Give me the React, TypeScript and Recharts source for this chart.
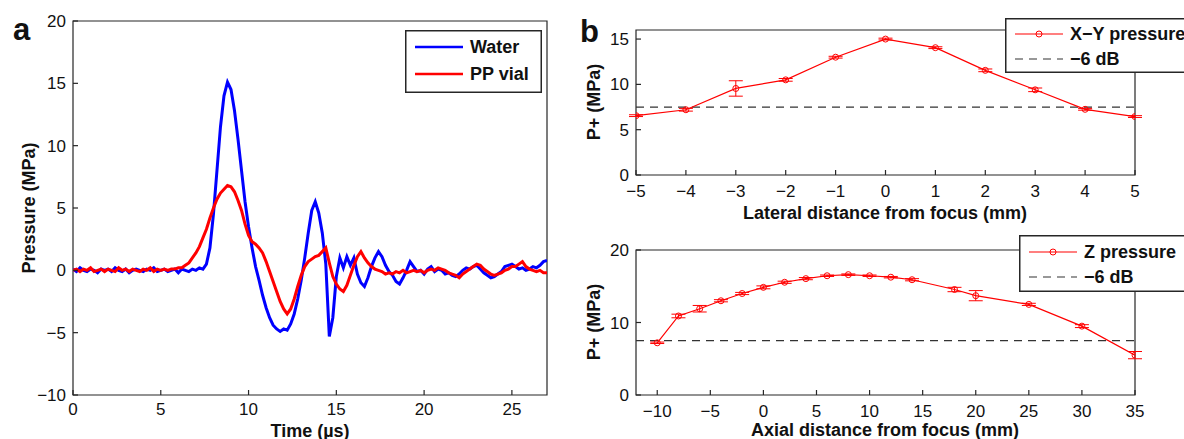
import { LineChart, Line, XAxis, YAxis, ReferenceLine, ReferenceArea, ErrorBar } from 'recharts';

const FONT = '"Liberation Sans", Arial, Helvetica, sans-serif';
const BLUE = '#0000ff';
const RED = '#ff0000';
const AXIS = '#262626';
const DASH = '#333333';

// (a) hydrophone traces, one sample every 0.2 us from 0 to 27 us
const SAMPLE_STEP_US = 0.2;
const waterMPa = [
  0.1, -0.1, 0.2, 0, -0.1, 0.1, 0, -0.2, 0.1, 0,
  0.1, -0.1, 0.2, 0, -0.1, 0.1, -0.2, 0, 0.1, 0,
  -0.1, 0.1, 0, 0.2, -0.1, 0, 0.1, -0.1, 0, 0.1,
  -0.2, 0.1, 0, -0.1, 0.1, 0, 0.2, 0.1, 0.5, 1.8,
  4.5, 8.0, 11.5, 14.0, 15.1, 14.5, 12.8, 10.5, 8.0, 5.5,
  3.5, 1.8, 0.3, -0.8, -2.0, -3.0, -3.8, -4.4, -4.7, -4.9,
  -4.7, -4.8, -4.3, -3.5, -2.3, -0.8, 1.0, 3.0, 4.8, 5.5,
  4.6, 3.0, 0.5, -5.3, -3.8, -0.5, 1.0, 0.2, 1.1, 0.4,
  1.0, -0.3, -1.0, -1.3, -0.6, 0.3, 1.0, 1.5, 1.1, 0.4,
  -0.1, -0.4, -0.9, -1.1, -0.6, 0, 0.7, 0.3, -0.1, 0,
  -0.3, 0.1, 0.3, -0.1, 0.1, 0, -0.3, -0.2, -0.4, -0.5,
  -0.3, 0, 0.2, 0.1, 0.3, 0.4, 0.1, -0.2, -0.4, -0.6,
  -0.5, -0.3, -0.1, 0.3, 0.4, 0.5, 0.3, 0.1, 0.2, 0,
  0.1, 0.3, 0.2, 0.4, 0.7, 0.8,
];
const ppVialMPa = [
  0, 0.1, -0.1, 0.1, 0, 0.2, -0.1, 0, 0.1, -0.1,
  0.1, 0, -0.1, 0.2, 0, 0.1, -0.1, 0.1, 0, -0.1,
  0.1, 0, 0.2, -0.1, 0.1, 0, 0.1, 0, 0.1, 0.1,
  0.2, 0.2, 0.4, 0.6, 1.0, 1.4, 1.9, 2.6, 3.3, 4.2,
  5.0, 5.7, 6.2, 6.5, 6.8, 6.7, 6.3, 5.6, 4.8, 3.7,
  2.8, 2.3, 2.1, 1.8, 1.4, 0.7, -0.1, -0.9, -1.7, -2.5,
  -3.1, -3.5, -3.1, -2.3, -1.3, -0.4, 0.3, 0.7, 0.9, 1.1,
  1.2, 1.5, 1.8, 0.6, -0.5, -1.1, -1.5, -1.7, -1.2, -0.4,
  0.4, 1.1, 1.5, 1.0, 0.6, 0.3, 0.1, 0, -0.1, -0.3,
  -0.2, -0.3, -0.1, -0.2, 0, -0.2, -0.1, 0, -0.1, 0,
  -0.2, 0, 0.1, 0, 0.2, 0.1, 0, -0.2, -0.3, -0.4,
  -0.6, -0.3, -0.1, 0.1, 0.3, 0.5, 0.4, 0.1, -0.1, -0.3,
  -0.4, -0.3, -0.2, 0, 0.1, 0.3, 0.3, 0.5, 0.7, 0.3,
  0.1, 0, -0.1, 0, -0.2, -0.2,
];
const timeTicks = [0, 5, 10, 15, 20, 25];
const pressureTicks = [-10, -5, 0, 5, 10, 15, 20];

// (b) peak positive pressure profiles
const lateralMm = [-5, -4, -3, -2, -1, 0, 1, 2, 3, 4, 5];
const lateralP = [6.55, 7.2, 9.55, 10.5, 13.0, 15.0, 14.05, 11.55, 9.4, 7.25, 6.45];
const lateralErr = [0.1, 0.15, 0.85, 0.15, 0.1, 0.1, 0.1, 0.15, 0.2, 0.1, 0.1];

const axialMm = [-10, -8, -6, -4, -2, 0, 2, 4, 6, 8, 10, 12, 14, 18, 20, 25, 30, 35];
const axialP = [7.2, 10.9, 11.9, 13.0, 14.0, 14.85, 15.55, 16.05, 16.45, 16.6, 16.45, 16.25, 15.9, 14.55, 13.7, 12.5, 9.5, 5.5];
const axialErr = [0.1, 0.25, 0.45, 0.15, 0.15, 0.2, 0.15, 0.15, 0.1, 0.1, 0.1, 0.1, 0.15, 0.3, 0.7, 0.15, 0.2, 0.5];
const axialTicks = [-10, -5, 0, 5, 10, 15, 20, 25, 30, 35];

const minus6dB = 7.5;

const traceData = waterMPa.map((w, i) => ({
  t: +(i * SAMPLE_STEP_US).toFixed(1),
  water: w,
  pp: ppVialMPa[i],
}));
const lateralData = lateralMm.map((x, i) => ({ x, p: lateralP[i], err: lateralErr[i] }));
const axialData = axialMm.map((x, i) => ({ x, p: axialP[i], err: axialErr[i] }));

const fmt = (v: number) => (v < 0 ? '\u2212' + Math.abs(v) : String(v));
const tickText = { fill: '#111', fontSize: 17, fontFamily: FONT };

// MATLAB-style inward tick marks, labels only on bottom / left
type TickProps = { x?: number; y?: number; payload?: { value: number } };
const tickMark = (side: 'bottom' | 'top' | 'left' | 'right', below = 21) => (props: TickProps) => {
  const x = props.x ?? 0;
  const y = props.y ?? 0;
  const v = props.payload?.value ?? 0;
  const L = 5;
  if (side === 'bottom') {
    return (
      <g>
        <line x1={x} x2={x} y1={y} y2={y - L} stroke={AXIS} strokeWidth={1.2} />
        <text x={x} y={y + below} textAnchor="middle" {...tickText}>{fmt(v)}</text>
      </g>
    );
  }
  if (side === 'left') {
    return (
      <g>
        <line x1={x} x2={x + L} y1={y} y2={y} stroke={AXIS} strokeWidth={1.2} />
        <text x={x - 7} y={y + 6} textAnchor="end" {...tickText}>{fmt(v)}</text>
      </g>
    );
  }
  if (side === 'top') {
    return <line x1={x} x2={x} y1={y} y2={y + L} stroke={AXIS} strokeWidth={1.2} />;
  }
  return <line x1={x} x2={x - L} y1={y} y2={y} stroke={AXIS} strokeWidth={1.2} />;
};

type Row = { label: string; color: string; dashed?: boolean; marker?: boolean; thick?: boolean };
const LegendBox = ({ x, y, width, height, rows, rowY }: {
  x: number; y: number; width: number; height: number; rows: Row[]; rowY: number[];
}) => (
  <g transform={`translate(${x}, ${y})`}>
    <rect x={0.75} y={0.75} width={width - 1.5} height={height - 1.5} fill="#fff" stroke={AXIS} strokeWidth={1.5} />
    {rows.map((r, i) => (
      <g key={r.label}>
        <line
          x1={10}
          x2={58}
          y1={rowY[i]}
          y2={rowY[i]}
          stroke={r.color}
          strokeWidth={r.thick ? 2.4 : 1.2}
          strokeDasharray={r.dashed ? '8 6' : undefined}
        />
        {r.marker && <circle cx={34} cy={rowY[i]} r={3} fill="none" stroke={r.color} strokeWidth={1} />}
        <text x={65} y={rowY[i]} dominantBaseline="central" fontFamily={FONT} fontWeight="bold" fontSize={18} fill="#111">
          {r.label}
        </text>
      </g>
    ))}
  </g>
);

const title = { fontFamily: FONT, fontWeight: 'bold', fontSize: 18, fill: '#111' } as const;
const VTitle = ({ x, y, text }: { x: number; y: number; text: string }) => (
  <text x={x} y={y} textAnchor="middle" dominantBaseline="central" transform={`rotate(-90, ${x}, ${y})`} {...title}>
    {text}
  </text>
);

const ProfileChart = ({ data, height, top, xDomain, xTicks, yDomain, yTicks, xAxisHeight }: {
  data: { x: number; p: number; err: number }[];
  height: number; top: number; xDomain: number[]; xTicks: number[]; yDomain: number[]; yTicks: number[];
  xAxisHeight: number;
}) => (
  <LineChart width={604} height={height} data={data} margin={{ top, right: 49, bottom: 0, left: 0 }}>
    <XAxis
      dataKey="x"
      type="number"
      domain={xDomain}
      ticks={xTicks}
      allowDataOverflow
      height={xAxisHeight}
      tickSize={0}
      tickMargin={0}
      tick={tickMark('bottom', 22)}
      axisLine={false}
      tickLine={false}
    />
    <XAxis xAxisId="top" orientation="top" type="number" domain={xDomain} ticks={xTicks} allowDataOverflow height={0} tickSize={0} tickMargin={0} tick={tickMark('top')} axisLine={false} tickLine={false} />
    <YAxis
      type="number"
      domain={yDomain}
      ticks={yTicks}
      allowDataOverflow
      width={56}
      tickSize={0}
      tickMargin={0}
      tick={tickMark('left')}
      axisLine={false}
      tickLine={false}
    />
    <YAxis yAxisId="right" orientation="right" type="number" domain={yDomain} ticks={yTicks} allowDataOverflow width={0} tickSize={0} tickMargin={0} tick={tickMark('right')} axisLine={false} tickLine={false} />
    <ReferenceArea x1={xDomain[0]} x2={xDomain[1]} y1={yDomain[0]} y2={yDomain[1]} fill="none" stroke={AXIS} strokeWidth={1.2} ifOverflow="visible" />
    <ReferenceLine y={minus6dB} stroke={DASH} strokeWidth={1.2} strokeDasharray="8 6" />
    <Line
      dataKey="p"
      stroke={RED}
      strokeWidth={1.2}
      dot={{ r: 3, stroke: RED, fill: 'none', strokeWidth: 1 }}
      isAnimationActive={false}
    >
      <ErrorBar dataKey="err" width={7} stroke={RED} strokeWidth={1} direction="y" />
    </Line>
  </LineChart>
);

const App = () => (
  <div style={{ position: 'absolute', left: 0, top: 0, width: 1184, height: 439, overflow: 'hidden', background: '#fff' }}>
    <div style={{ position: 'absolute', left: 0, top: 0 }}>
      <LineChart width={560} height={439} data={traceData} margin={{ top: 21, right: 13, bottom: 0, left: 0 }}>
        <XAxis
          dataKey="t"
          type="number"
          domain={[0, 27]}
          ticks={timeTicks}
          allowDataOverflow
          height={44}
          tickSize={0}
          tickMargin={0}
          tick={tickMark('bottom', 20)}
          axisLine={false}
          tickLine={false}
        />
        <XAxis xAxisId="top" orientation="top" type="number" domain={[0, 27]} ticks={timeTicks} allowDataOverflow height={0} tickSize={0} tickMargin={0} tick={tickMark('top')} axisLine={false} tickLine={false} />
        <YAxis
          type="number"
          domain={[-10, 20]}
          ticks={pressureTicks}
          allowDataOverflow
          width={73}
          tickSize={0}
          tickMargin={0}
          tick={tickMark('left')}
          axisLine={false}
          tickLine={false}
        />
        <YAxis yAxisId="right" orientation="right" type="number" domain={[-10, 20]} ticks={pressureTicks} allowDataOverflow width={0} tickSize={0} tickMargin={0} tick={tickMark('right')} axisLine={false} tickLine={false} />
        <ReferenceArea x1={0} x2={27} y1={-10} y2={20} fill="none" stroke={AXIS} strokeWidth={1.2} ifOverflow="visible" />
        <Line dataKey="water" stroke={BLUE} strokeWidth={3} dot={false} isAnimationActive={false} />
        <Line dataKey="pp" stroke={RED} strokeWidth={3} dot={false} isAnimationActive={false} />
      </LineChart>
    </div>
    <div style={{ position: 'absolute', left: 580, top: 0 }}>
      <ProfileChart
        data={lateralData}
        height={230}
        top={30}
        xDomain={[-5, 5]}
        xTicks={lateralMm}
        yDomain={[0, 16]}
        yTicks={[0, 5, 10, 15]}
        xAxisHeight={55}
      />
    </div>
    <div style={{ position: 'absolute', left: 580, top: 230 }}>
      <ProfileChart
        data={axialData}
        height={209}
        top={20}
        xDomain={[-12, 35]}
        xTicks={axialTicks}
        yDomain={[0, 20]}
        yTicks={[0, 10, 20]}
        xAxisHeight={44}
      />
    </div>
    <svg style={{ position: 'absolute', left: 0, top: 0 }} width={1184} height={439}>
      <text x={13} y={40} fontFamily={FONT} fontWeight="bold" fontSize={31} fill="#111">a</text>
      <text x={580} y={42} fontFamily={FONT} fontWeight="bold" fontSize={31} fill="#111">b</text>
      <VTitle x={29} y={208} text="Pressure (MPa)" />
      <text x={310} y={437} textAnchor="middle" {...title}>Time (µs)</text>
      <VTitle x={594} y={102} text="P+ (MPa)" />
      <text x={885} y={219} textAnchor="middle" {...title}>Lateral distance from focus (mm)</text>
      <VTitle x={594} y={322} text="P+ (MPa)" />
      <text x={885} y={436} textAnchor="middle" {...title}>Axial distance from focus (mm)</text>
      <LegendBox
        x={405}
        y={30}
        width={137}
        height={63}
        rowY={[17, 44]}
        rows={[
          { label: 'Water', color: BLUE, thick: true },
          { label: 'PP vial', color: RED, thick: true },
        ]}
      />
      <LegendBox
        x={1005}
        y={18}
        width={200}
        height={55}
        rowY={[16, 41]}
        rows={[
          { label: 'X\u2212Y pressure', color: RED, marker: true },
          { label: '\u22126 dB', color: DASH, dashed: true },
        ]}
      />
      <LegendBox
        x={1019}
        y={235}
        width={200}
        height={57}
        rowY={[17, 42]}
        rows={[
          { label: 'Z pressure', color: RED, marker: true },
          { label: '\u22126 dB', color: DASH, dashed: true },
        ]}
      />
    </svg>
  </div>
);

export default App;
